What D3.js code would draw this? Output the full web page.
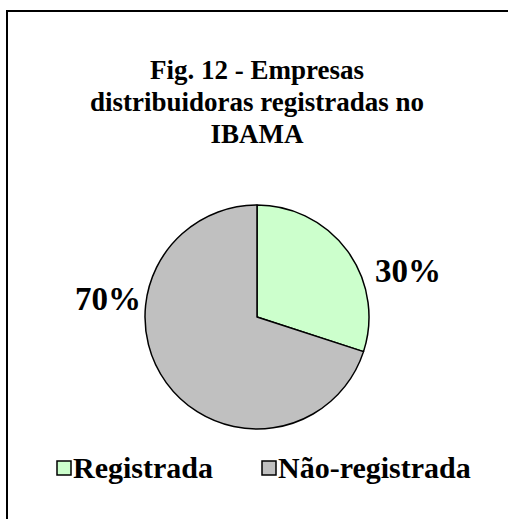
<!DOCTYPE html>
<html>
<head>
<meta charset="utf-8">
<script src="https://cdn.jsdelivr.net/npm/d3@7"></script>
<style>
  body { margin: 0; background: #fff; }
  svg text { font-family: "Liberation Serif", "Times New Roman", serif; font-weight: 700; fill: #000; }
</style>
</head>
<body>
<div id="chart"></div>
<script>
// chart data
var categories = ["Registrada", "Não-registrada"];
var values = [30, 70];
var colors = ["#ccffcc", "#c0c0c0"];
var titleLines = ["Fig. 12 - Empresas", "distribuidoras registradas no", "IBAMA"];

var svgWidth = 508;
var svgHeight = 519;

var svg = d3.select("#chart")
  .append("svg")
  .attr("width", svgWidth)
  .attr("height", svgHeight);

// frame (right and bottom edges fall outside the picture)
svg.append("rect")
  .attr("x", 7)
  .attr("y", 11)
  .attr("width", 540)
  .attr("height", 540)
  .attr("fill", "#fff")
  .attr("stroke", "#000")
  .attr("stroke-width", 2);

// title
svg.append("g")
  .selectAll("text")
  .data(titleLines)
  .enter()
  .append("text")
  .attr("x", 257)
  .attr("y", function (d, i) { return 79 + i * 32; })
  .attr("text-anchor", "middle")
  .style("font-size", "27px")
  .text(function (d) { return d; });

// pie
var cx = 257, cy = 317, radius = 112;
var pie = d3.pie().sort(null).value(function (d) { return d; });
var arc = d3.arc().innerRadius(0).outerRadius(radius);
var arcs = pie(values);

var chart = svg.append("g")
  .attr("transform", "translate(" + cx + "," + cy + ")");

chart.selectAll("path")
  .data(arcs)
  .enter()
  .append("path")
  .attr("d", arc)
  .attr("fill", function (d, i) { return colors[i]; })
  .attr("stroke", "#000")
  .attr("stroke-width", 1.5)
  .attr("stroke-linejoin", "round");

// percentage labels outside the slices
chart.selectAll("text.pct")
  .data(arcs)
  .enter()
  .append("text")
  .attr("class", "pct")
  .attr("text-anchor", "middle")
  .style("font-size", "33px")
  .attr("x", function (d, i) { return i === 0 ? 151 : -149; })
  .attr("y", function (d, i) { return i === 0 ? -35 : -7; })
  .text(function (d) { return Math.round(d.value / d3.sum(values) * 100) + "%"; });

// legend
var legendX = [57, 262];
var legend = svg.append("g").selectAll("g")
  .data(categories)
  .enter()
  .append("g")
  .attr("transform", function (d, i) { return "translate(" + legendX[i] + ",461)"; });

legend.append("rect")
  .attr("width", 14)
  .attr("height", 14)
  .attr("fill", function (d, i) { return colors[i]; })
  .attr("stroke", "#000")
  .attr("stroke-width", 1.5);

legend.append("text")
  .attr("x", 16)
  .attr("y", 17)
  .style("font-size", "30px")
  .text(function (d) { return d; });
</script>
</body>
</html>
